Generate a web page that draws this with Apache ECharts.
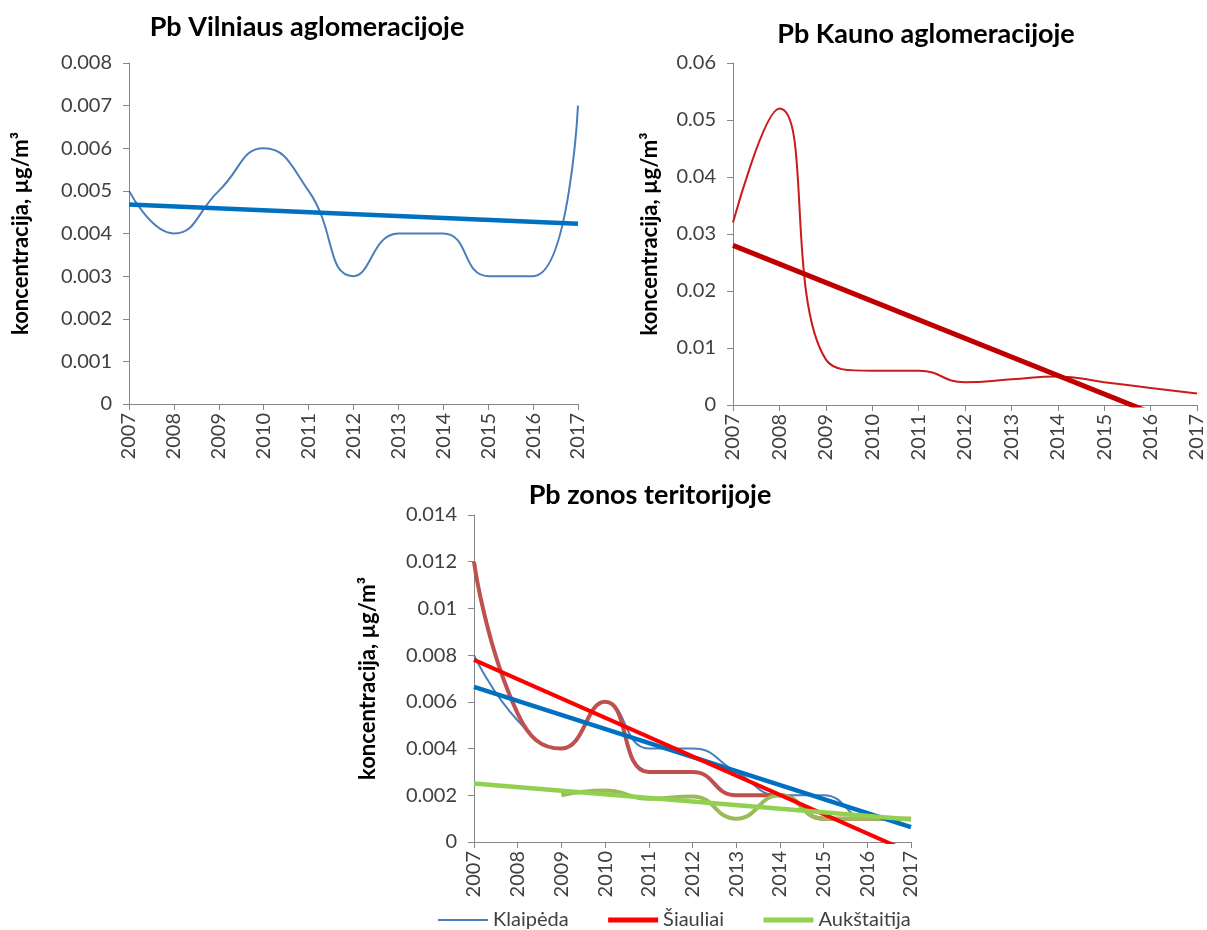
<!DOCTYPE html>
<html>
<head>
<meta charset="utf-8">
<script src="https://cdn.jsdelivr.net/npm/echarts@6/dist/echarts.min.js"></script>
<style>
  html, body { margin: 0; padding: 0; background: #ffffff; }
  #chart { width: 1207px; height: 930px; }
</style>
</head>
<body>
<div id="chart"></div>
<script>
// Years shared by all three panels
const years = ['2007', '2008', '2009', '2010', '2011', '2012', '2013', '2014', '2015', '2016', '2017'];

// Annual mean Pb concentration, µg/m³
const vilnius = [0.005, 0.004, 0.005, 0.006, 0.005, 0.003, 0.004, 0.004, 0.003, 0.003, 0.007];
const kaunas = [0.032, 0.052, 0.008, 0.006, 0.006, 0.004, 0.0045, 0.005, 0.004, 0.003, 0.002];
const klaipeda = [0.008, 0.0052, 0.004, 0.006, 0.004, 0.004, 0.003, 0.002, 0.002, 0.001, 0.001];
const siauliai = [0.012, 0.0055, 0.004, 0.006, 0.003, 0.003, 0.002, 0.002, 0.001, 0.001, 0.001];
const aukstaitija = [null, null, 0.002, 0.0022, 0.00185, 0.00195, 0.001, 0.002, 0.001, 0.001, 0.001];

// Linear trend lines: values at 2007 and 2017
const vilniusTrend = [0.00468, 0.00423];
const kaunasTrend = [0.0280, -0.0046];
const klaipedaTrend = [0.00664, 0.00064];
const siauliaiTrend = [0.0078, -0.00046];
const aukstaitijaTrend = [0.0025, 0.00096];

// Value-axis ranges
const vilniusAxis = { max: 0.008, interval: 0.001 };
const kaunasAxis = { max: 0.06, interval: 0.01 };
const zoneAxis = { max: 0.014, interval: 0.002 };

const FONT = 'Lato, "Open Sans", "DejaVu Sans", sans-serif';
const TEXT = '#404040';
const AXIS = '#868686';
const Y_NAME = 'koncentracija, µg/m³';

function trendPoints(t) {
  return [[years[0], t[0]], [years[years.length - 1], t[1]]];
}

function xAxisFor(gridIndex) {
  return {
    type: 'category',
    gridIndex: gridIndex,
    data: years,
    boundaryGap: false,
    axisLine: { lineStyle: { color: AXIS, width: 1 } },
    axisTick: { show: true, length: 6, lineStyle: { color: AXIS } },
    axisLabel: { rotate: 90, margin: 9, fontFamily: FONT, fontSize: 20, color: TEXT },
    splitLine: { show: false }
  };
}

function yAxisFor(gridIndex, range, nameGap) {
  return {
    type: 'value',
    gridIndex: gridIndex,
    min: 0,
    max: range.max,
    interval: range.interval,
    name: Y_NAME,
    nameLocation: 'middle',
    nameGap: nameGap,
    nameRotate: 90,
    nameTextStyle: { fontFamily: FONT, fontSize: 22, fontWeight: 'bold', color: '#000000' },
    axisLine: { show: true, lineStyle: { color: AXIS, width: 1 } },
    axisTick: { show: true, length: 6, lineStyle: { color: AXIS } },
    axisLabel: { margin: 17, fontFamily: FONT, fontSize: 20, color: TEXT },
    splitLine: { show: false }
  };
}

function dataLine(name, idx, values, color, width) {
  return {
    name: name, type: 'line', xAxisIndex: idx, yAxisIndex: idx,
    data: values, smooth: 0.5, symbol: 'none',
    lineStyle: { color: color, width: width }, itemStyle: { color: color },
    z: 2
  };
}

function trendLine(name, idx, t, color, width) {
  return {
    name: name, type: 'line', xAxisIndex: idx, yAxisIndex: idx,
    data: trendPoints(t), symbol: 'none', clip: true,
    lineStyle: { color: color, width: width }, itemStyle: { color: color },
    z: 3
  };
}

const chart = echarts.init(document.getElementById('chart'), null, { renderer: 'canvas' });

const titleStyle = { fontFamily: FONT, fontSize: 27, fontWeight: 'bold', color: '#000000' };

chart.setOption({
  backgroundColor: '#ffffff',
  animation: false,
  title: [
    { text: 'Pb Vilniaus aglomeracijoje', left: 307, top: 14, textAlign: 'center', padding: 0, textStyle: titleStyle },
    { text: 'Pb Kauno aglomeracijoje', left: 926, top: 21, textAlign: 'center', padding: 0, textStyle: titleStyle },
    { text: 'Pb zonos teritorijoje', left: 650, top: 482, textAlign: 'center', padding: 0, textStyle: titleStyle }
  ],
  legend: {
    left: 437, top: 910, itemWidth: 50, itemHeight: 14, itemGap: 37, padding: 0,
    itemStyle: { opacity: 0 },
    textStyle: { fontFamily: FONT, fontSize: 20, color: TEXT },
    data: [
      { name: 'Klaipėda', lineStyle: { color: '#4a7ebb', width: 2 } },
      { name: 'Šiauliai', lineStyle: { color: '#ff0000', width: 5 } },
      { name: 'Aukštaitija', lineStyle: { color: '#92d050', width: 5 } }
    ]
  },
  grid: [
    { left: 129, top: 63, width: 449, height: 341 },
    { left: 733, top: 63, width: 464, height: 342 },
    { left: 474, top: 515, width: 437, height: 327 }
  ],
  xAxis: [xAxisFor(0), xAxisFor(1), xAxisFor(2)],
  yAxis: [
    yAxisFor(0, vilniusAxis, 97),
    yAxisFor(1, kaunasAxis, 72),
    yAxisFor(2, zoneAxis, 95)
  ],
  series: [
    dataLine('Vilnius', 0, vilnius, '#4a7ebb', 2),
    trendLine('Vilnius trend', 0, vilniusTrend, '#0070c0', 4.5),

    dataLine('Kaunas', 1, kaunas, '#cc1a1a', 2),
    trendLine('Kaunas trend', 1, kaunasTrend, '#c00000', 5),

    dataLine('Klaipėda', 2, klaipeda, '#4a7ebb', 2),
    dataLine('Šiauliai', 2, siauliai, '#c0504d', 4),
    dataLine('Aukštaitija', 2, aukstaitija, '#9bbb59', 4),
    trendLine('Klaipėda trend', 2, klaipedaTrend, '#0070c0', 4.5),
    trendLine('Šiauliai trend', 2, siauliaiTrend, '#ff0000', 4),
    trendLine('Aukštaitija trend', 2, aukstaitijaTrend, '#92d050', 4.5)
  ]
});
</script>
</body>
</html>
